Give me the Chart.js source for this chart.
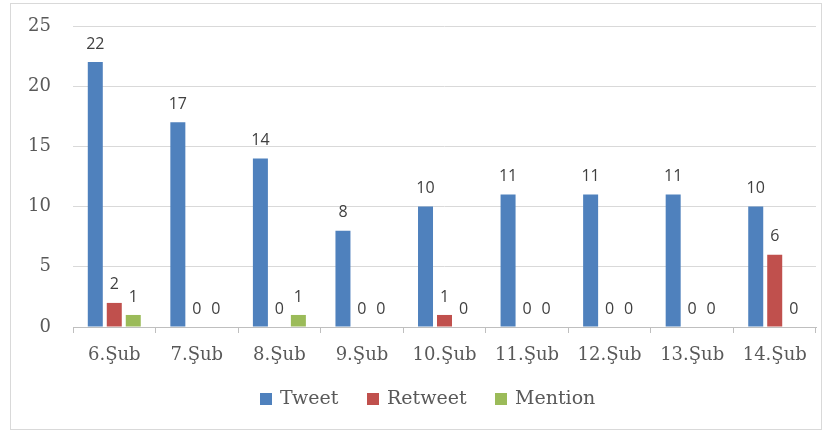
<!DOCTYPE html>
<html>
<head>
<meta charset="utf-8">
<script src="https://cdn.jsdelivr.net/npm/chart.js@4.4.0/dist/chart.umd.min.js"></script>
<style>
  body { margin: 0; background: #fff; }
  #wrap { position: absolute; left: 0; top: 0; width: 829px; height: 433px; }
  #frame { position: absolute; left: 10px; top: 3px; width: 812px; height: 427px; border: 1px solid #d9d9d9; box-sizing: border-box; }
</style>
</head>
<body>
<div id="frame"></div>
<div id="wrap"><canvas id="chart"></canvas></div>
<script>
let days = ["6.Şub", "7.Şub", "8.Şub", "9.Şub", "10.Şub", "11.Şub", "12.Şub", "13.Şub", "14.Şub"];
let tweet = [22, 17, 14, 8, 10, 11, 11, 11, 10];
let retweet = [2, 0, 0, 0, 1, 0, 0, 0, 6];
let mention = [1, 0, 1, 0, 0, 0, 0, 0, 0];
let yTicks = [0, 5, 10, 15, 20, 25];

// value labels above each bar
const valueLabels = {
    id: "valueLabels",
    afterDatasetsDraw(chart) {
        let ctx = chart.ctx;
        ctx.save();
        ctx.font = "16px 'Open Sans'";
        ctx.fillStyle = "#404040";
        ctx.textAlign = "center";
        ctx.textBaseline = "middle";
        chart.data.datasets.forEach((ds, i) => {
            chart.getDatasetMeta(i).data.forEach((bar, j) => {
                ctx.fillText(ds.data[j], bar.x, bar.y - 18);
            });
        });
        ctx.restore();
    }
};

// legend drawn by hand so its spacing matches
const bottomLegend = {
    id: "bottomLegend",
    afterDraw(chart) {
        let ctx = chart.ctx;
        let xs = [260, 367, 495];
        ctx.save();
        ctx.font = "19px 'DejaVu Serif'";
        ctx.textBaseline = "middle";
        chart.data.datasets.forEach((ds, i) => {
            ctx.fillStyle = ds.backgroundColor;
            ctx.fillRect(xs[i], 393, 12, 12);
            ctx.fillStyle = "#595959";
            ctx.fillText(ds.label, xs[i] + 20, 399);
        });
        ctx.restore();
    }
};

new Chart(document.getElementById("chart"), {
    type: 'bar',
    data: {
        labels: days,
        datasets: [
            { label: "Tweet", data: tweet, backgroundColor: "#4f81bd" },
            { label: "Retweet", data: retweet, backgroundColor: "#c0504d" },
            { label: "Mention", data: mention, backgroundColor: "#9bbb59" }
        ]
    },
    options: {
        responsive: true,
        maintainAspectRatio: false,
        animation: false,
        categoryPercentage: 0.69,
        barPercentage: 0.79,
        layout: { padding: { left: 0, right: 13, top: 26, bottom: 65 } },
        plugins: {
            tooltip: { enabled: false },
            legend: { display: false }
        },
        scales: {
            x: {
                grid: { offset: true, drawOnChartArea: false, tickLength: 6, color: "#bfbfbf" },
                border: { color: "#bfbfbf" },
                ticks: { color: "#595959", padding: 12, font: { family: "'DejaVu Serif'", size: 18 } },
                afterFit(scale) { scale.height = 41; }
            },
            y: {
                min: 0,
                max: 25,
                afterBuildTicks(scale) { scale.ticks = yTicks.map(v => ({ value: v })); },
                grid: { color: "#d9d9d9", drawTicks: false },
                border: { display: false },
                ticks: { color: "#595959", padding: 22, font: { family: "'DejaVu Serif'", size: 18 } },
                afterFit(scale) { scale.width = 73; scale.paddingTop = 0; scale.paddingBottom = 0; }
            }
        }
    },
    plugins: [valueLabels, bottomLegend]
});
</script>
</body>
</html>
